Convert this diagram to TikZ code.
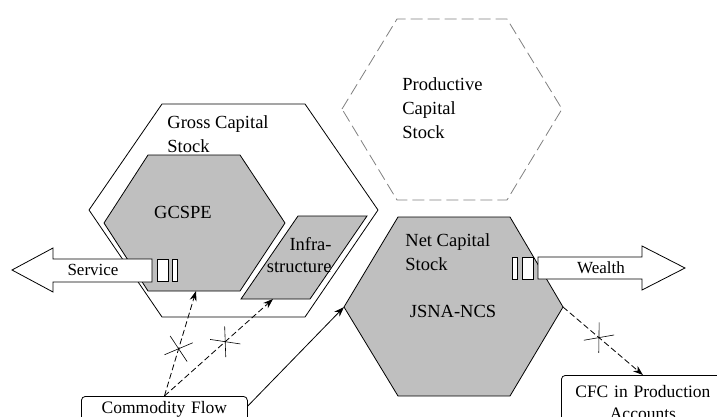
\documentclass[tikz,border=0pt]{standalone}
\usepackage{fontspec}
\setmainfont{Liberation Serif}
\usetikzlibrary{shapes.misc,arrows.meta}
\definecolor{stockgray}{gray}{0.75}
\definecolor{ghostgray}{gray}{0.5}

\begin{document}
\begin{tikzpicture}[x=1pt,y=-1pt,line width=0.8pt,
    >={Stealth[length=10pt,width=7pt]}]
    \tikzstyle{hexa}=[draw=black,fill=white]
    \tikzstyle{stock}=[draw=black,fill=stockgray]
    \tikzstyle{ghost}=[draw=ghostgray,dash pattern=on 12pt off 5pt]
    \tikzstyle{label}=[inner sep=0pt,align=left,font=\fontsize{18.5}{24}\selectfont]
    \tikzstyle{flowbox}=[draw=black,fill=white,rounded corners=4pt,inner sep=0pt,font=\fontsize{17.5}{22}\selectfont]
    \tikzstyle{flow}=[->,dash pattern=on 6pt off 3pt]
    \tikzstyle{cut}=[solid,draw,cross out,sloped,inner sep=0pt,minimum width=19pt,minimum height=23pt,line width=0.6pt]
    \useasboundingbox (0,0) rectangle (717,416);
    \clip (0,0) rectangle (717,416);

    % hexagons
    \draw[hexa] (89,210) -- (162,104) -- (305,104) -- (378,210) -- (305,317) -- (162,317) -- cycle;
    \draw[stock] (104,223) -- (148,155) -- (240,155) -- (285,223) -- (240,291) -- (148,291) -- cycle;
    \coordinate (gcspe-s) at (196,291);
    \draw[stock] (298,216) -- (367,216) -- (310,299) -- (241,299) -- cycle;
    \coordinate (infra-s) at (273,299);
    \draw[ghost] (342,109) -- (397,19) -- (507,19) -- (562,109) -- (507,200) -- (397,200) -- cycle;
    \draw[stock] (344,307) coordinate (ncs-w) -- (398,217) -- (510,217) -- (563,307) coordinate (ncs-e) -- (510,396) -- (398,396) -- cycle;

    % labels (base = last line)
    \node[label,anchor=base west] (gcs) at (167,152) {Gross Capital\\Stock};
    \node[label,anchor=base] (gcspe) at (183,218) {GCSPE};
    \node[label,anchor=base east,align=right,font=\fontsize{18.5}{22}\selectfont] (infra) at (332,272) {Infra-\\structure};
    \node[label,anchor=base west] (pcs) at (402,138) {Productive\\Capital\\Stock};
    \node[label,anchor=base west] (ncs) at (405,270) {Net Capital\\Stock};
    \node[label,anchor=base] (jsna) at (453,317) {JSNA-NCS};

    % service and wealth
    \draw[fill=white] (12,270) -- (53,248) -- (53,259) -- (152,259) -- (152,282) -- (53,282) -- (53,292) -- cycle;
    \node[font=\fontsize{17}{20}\selectfont] (service) at (93,270) {Service};
    \foreach \a/\b in {157/168, 172/177}
        \draw[fill=white] (\a,259) rectangle (\b,281);
    \draw[fill=white] (685,268) -- (642,246) -- (642,257) -- (538,257) -- (538,279) -- (642,279) -- (642,290) -- cycle;
    \node[font=\fontsize{17}{20}\selectfont] (wealth) at (601,268) {Wealth};
    \foreach \a/\b in {512/517, 522/533}
        \draw[fill=white] (\a,257) rectangle (\b,279);

    % boxes
    \node[flowbox,anchor=north west,text width=166pt,align=center,inner ysep=2pt,text height=15pt,text depth=30pt] (cf) at (81,396) {Commodity Flow};
    \node[flowbox,anchor=north west,text width=163pt,align=center,inner ysep=10pt] (cfc) at (561,375) {CFC in Production\\Accounts};

    % flows
    \draw[flow] (cf.north) -- node[cut,pos=.45]{} (gcspe-s);
    \draw[flow] (cf.north) -- node[cut,pos=.56]{} (infra-s);
    \draw[->] ([yshift=-10pt]cf.north east) -- (ncs-w);
    \draw[flow] (ncs-e) -- node[cut,pos=.45]{} (cfc.north);
\end{tikzpicture}
\end{document}
